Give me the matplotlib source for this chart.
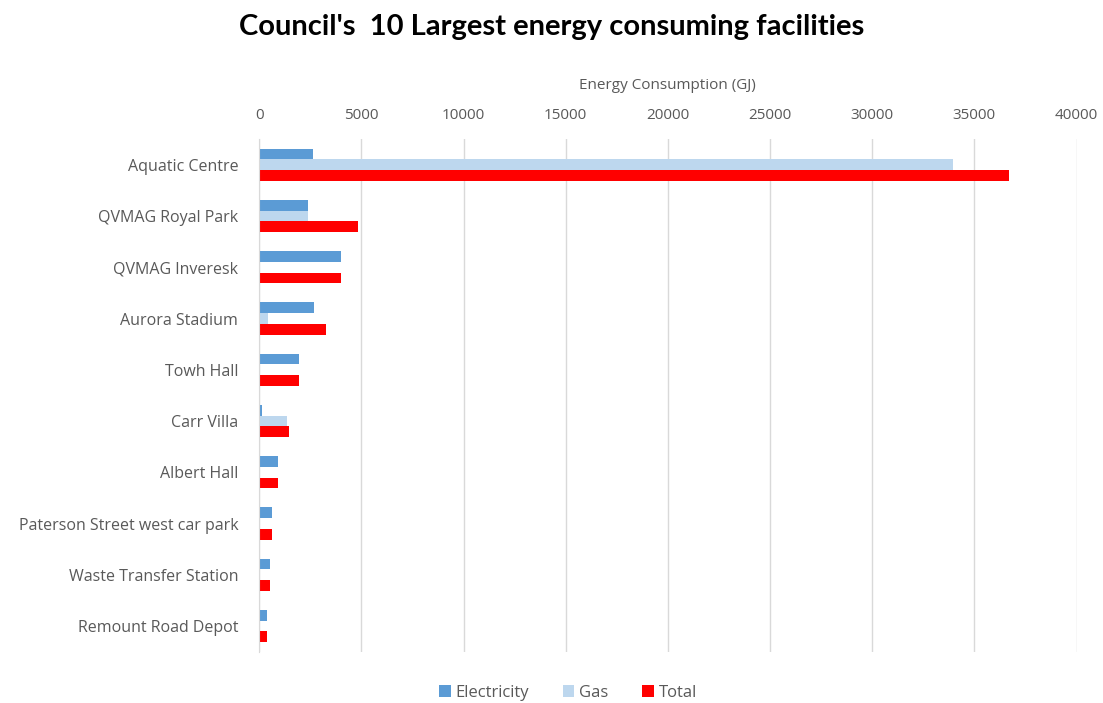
import numpy as np
import matplotlib.pyplot as plt

facilities = ['Aquatic Centre', 'QVMAG Royal Park', 'QVMAG Inveresk', 'Aurora Stadium',
              'Towh Hall', 'Carr Villa', 'Albert Hall', 'Paterson Street west car park',
              'Waste Transfer Station', 'Remount Road Depot']
electricity = [2650, 2400, 4000, 2700, 1960, 150, 930, 640, 540, 390]
gas = [33970, 2400, 0, 440, 0, 1370, 0, 0, 0, 0]
total = [36700, 4850, 4000, 3280, 1960, 1470, 930, 640, 540, 390]
xticks = [0, 5000, 10000, 15000, 20000, 25000, 30000, 35000, 40000]

grey = '#595959'
fig = plt.figure(figsize=(11.03, 7.03), dpi=100)
ax = fig.add_axes([0.235, 0.073, 0.741, 0.729])

y = np.arange(len(facilities))
h = 0.21
ax.barh(y - h, electricity, height=h, color='#5B9BD5', label='Electricity')
ax.barh(y, gas, height=h, color='#BDD7EE', label='Gas')
ax.barh(y + h, total, height=h, color='#FF0000', label='Total')

ax.set_ylim(len(facilities) - 0.5, -0.5)
ax.set_xlim(0, 40000)
ax.set_xticks(xticks)
ax.set_yticks(y)
ax.set_yticklabels(facilities)
ax.xaxis.tick_top()
ax.xaxis.set_label_position('top')
ax.set_xlabel('Energy Consumption (GJ)', fontsize=11, color=grey, family='Open Sans', labelpad=13)
ax.tick_params(axis='x', length=0, labelsize=11, colors=grey, pad=12)
ax.tick_params(axis='y', length=0, labelsize=11.5, colors=grey, pad=15)
for lab in ax.get_xticklabels() + ax.get_yticklabels():
    lab.set_family('Open Sans')
ax.grid(axis='x', color='#d9d9d9', linewidth=1)
ax.set_axisbelow(True)
for s in ['top', 'right', 'bottom']:
    ax.spines[s].set_visible(False)
ax.spines['left'].set_color('#d9d9d9')

fig.text(0.5, 0.962, "Council's  10 Largest energy consuming facilities", ha='center', va='center',
         fontsize=21, fontweight='bold', family='Lato', color='black')

leg = fig.legend(loc='center', bbox_to_anchor=(0.515, 0.014), ncol=3, frameon=False,
                 handlelength=0.7, handleheight=0.7, handletextpad=0.3, columnspacing=2.0,
                 prop={'family': 'Open Sans', 'size': 12})
for t in leg.get_texts():
    t.set_color(grey)

fig.savefig('out.png', dpi=100)
